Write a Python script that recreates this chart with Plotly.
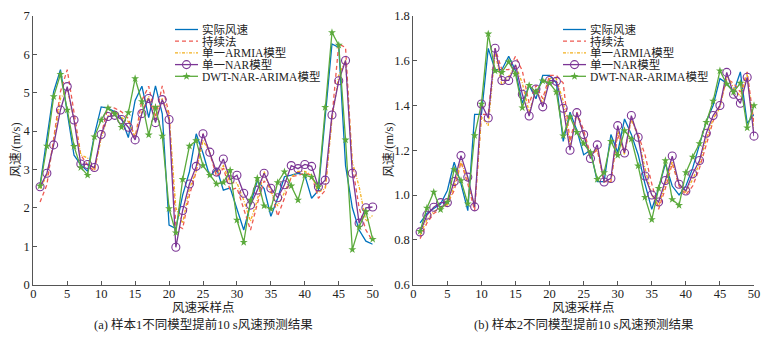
import plotly.graph_objects as go

# ---------------- data ----------------
x = list(range(1, 51))

# Sample 1 (left)
s1_actual = [2.6, 3.8, 5.03, 5.6, 4.5, 3.37, 3.12, 2.95, 3.9, 4.63,
             4.6, 4.5, 4.33, 3.83, 4.8, 5.17, 4.35, 5.18, 4.45, 1.55,
             1.46, 2.33, 2.94, 3.93, 3.42, 2.81, 3.03, 2.46, 2.52, 2.0,
             1.42, 2.1, 2.7, 2.5, 1.78, 2.25, 2.81, 2.85, 2.9, 2.85,
             2.25, 2.45, 4.4, 6.27, 6.18, 3.1, 2.0, 1.42, 1.13, 1.05]
s1_persist = [2.15, 2.6, 3.8, 5.03, 5.6, 4.5, 3.37, 3.12, 2.95, 3.9,
              4.63, 4.6, 4.5, 4.33, 3.83, 4.8, 5.17, 4.35, 5.18, 4.45,
              1.55, 1.46, 2.33, 2.94, 3.93, 3.42, 2.81, 3.03, 2.46, 2.52,
              2.0, 1.42, 2.1, 2.7, 2.5, 1.78, 2.25, 2.81, 2.85, 2.9,
              2.85, 2.25, 2.45, 4.4, 6.27, 6.18, 3.1, 2.0, 1.42, 1.13]
s1_arima = [2.5, 2.85, 3.7, 4.85, 5.1, 4.3, 3.38, 3.3, 2.98, 3.8,
            4.4, 4.5, 4.35, 4.25, 3.85, 4.5, 4.9, 4.3, 4.85, 4.4,
            2.0, 1.6, 2.5, 2.95, 3.75, 3.45, 2.9, 3.1, 2.65, 2.65,
            2.2, 1.65, 2.2, 2.95, 2.4, 2.05, 2.4, 2.8, 2.95, 2.95,
            2.85, 2.4, 2.5, 4.3, 5.45, 5.85, 3.2, 2.55, 1.65, 1.8]
s1_nar = [2.55, 2.9, 3.64, 4.55, 5.16, 4.29, 3.14, 3.13, 3.05, 3.91,
          4.38, 4.41, 4.3, 4.1, 3.77, 4.46, 4.85, 4.22, 4.82, 4.3,
          0.97, 1.93, 2.62, 3.08, 3.93, 3.45, 2.93, 3.27, 2.73, 2.85,
          2.38, 2.07, 2.46, 2.9, 2.51, 2.26, 2.6, 3.1, 3.02, 3.13,
          3.08, 2.55, 2.72, 4.42, 5.31, 5.84, 2.9, 1.6, 2.0, 2.02]
s1_dwt = [2.57, 3.61, 4.9, 5.48, 4.55, 3.6, 3.05, 2.85, 3.85, 4.29,
          4.6, 4.45, 4.1, 4.48, 5.37, 4.77, 3.9, 4.62, 3.87, 1.98,
          1.35, 2.74, 3.61, 3.75, 3.1, 2.85, 2.62, 2.66, 2.98, 1.68,
          1.1, 2.2, 2.77, 2.05, 1.97, 2.66, 2.94, 2.57, 2.2, 2.85,
          2.8, 2.55, 4.62, 6.57, 6.24, 3.77, 0.91, 1.5, 1.9, 1.18]

# Sample 2 (right)
s2_actual = [0.875, 0.917, 0.94, 0.96, 1.02, 1.147, 1.05, 0.93, 1.36, 1.36,
             1.655, 1.56, 1.56, 1.62, 1.555, 1.41, 1.49, 1.43, 1.535, 1.535,
             1.5, 1.24, 1.37, 1.29, 1.18, 1.2, 1.06, 1.06, 1.27, 1.19,
             1.34, 1.27, 1.18, 1.05, 0.936, 1.03, 1.14, 1.04, 1.0, 1.04,
             1.12, 1.22, 1.33, 1.4, 1.52, 1.5, 1.46, 1.55, 1.32, 1.36]
s2_persist = [0.805, 0.875, 0.917, 0.94, 0.96, 1.02, 1.147, 1.05, 0.93, 1.36,
              1.36, 1.655, 1.56, 1.56, 1.62, 1.555, 1.41, 1.49, 1.43, 1.535,
              1.535, 1.5, 1.24, 1.37, 1.29, 1.18, 1.2, 1.06, 1.06, 1.27,
              1.19, 1.34, 1.27, 1.18, 1.05, 0.936, 1.03, 1.14, 1.04, 1.0,
              1.04, 1.12, 1.22, 1.33, 1.4, 1.52, 1.5, 1.46, 1.55, 1.32]
s2_arima = [0.82, 0.89, 0.925, 0.945, 0.955, 1.04, 1.15, 1.07, 0.945, 1.35,
            1.31, 1.64, 1.49, 1.53, 1.58, 1.5, 1.37, 1.47, 1.41, 1.52,
            1.52, 1.42, 1.22, 1.36, 1.27, 1.17, 1.21, 1.06, 1.06, 1.29,
            1.18, 1.34, 1.26, 1.12, 1.0, 0.95, 1.05, 1.15, 1.05, 1.01,
            1.07, 1.14, 1.25, 1.34, 1.39, 1.53, 1.48, 1.44, 1.54, 1.28]
s2_nar = [0.835, 0.91, 0.945, 0.966, 0.966, 1.06, 1.176, 1.08, 0.947, 1.407,
          1.344, 1.656, 1.512, 1.512, 1.582, 1.45, 1.353, 1.474, 1.394, 1.512,
          1.508, 1.388, 1.2, 1.368, 1.27, 1.163, 1.224, 1.058, 1.074, 1.31,
          1.188, 1.355, 1.258, 1.085, 1.0, 0.969, 1.065, 1.174, 1.048, 1.018,
          1.095, 1.154, 1.276, 1.355, 1.4, 1.548, 1.45, 1.41, 1.526, 1.263]
s2_dwt = [0.838, 0.942, 1.013, 0.935, 0.969, 1.114, 1.065, 0.961, 1.266, 1.407,
          1.72, 1.555, 1.548, 1.595, 1.54, 1.39, 1.49, 1.46, 1.51, 1.5,
          1.46, 1.265, 1.35, 1.28, 1.23, 1.19, 1.07, 1.1, 1.24, 1.177,
          1.288, 1.25, 1.13, 0.99, 0.89, 1.03, 1.154, 0.98, 0.954, 1.1,
          1.17, 1.23, 1.325, 1.42, 1.555, 1.496, 1.46, 1.5, 1.3, 1.4]

series_names = ["实际风速", "持续法", "单一ARMIA模型", "单一NAR模型", "DWT-NAR-ARIMA模型"]
x_ticks = [0, 5, 10, 15, 20, 25, 30, 35, 40, 45, 50]
y1_ticks = [0, 1, 2, 3, 4, 5, 6, 7]
y2_ticks = [0.6, 0.8, 1.0, 1.2, 1.4, 1.6, 1.8]
x_title = "风速采样点"
y_title = "风速/(m/s)"
captions = ["(a) 样本1不同模型提前10 s风速预测结果", "(b) 样本2不同模型提前10 s风速预测结果"]

# ---------------- styling ----------------
W, H = 776, 337
FONT = "Liberation Serif, Times New Roman, Noto Sans CJK SC, serif"
TXT = "#222222"
AX = "#555555"

styles = [
    dict(mode="lines", line=dict(color="#0072BD", width=1.3)),
    dict(mode="lines", line=dict(color="#EE5A52", width=1.3, dash="4px,3px")),
    dict(mode="lines", line=dict(color="#F2B01E", width=1.3, dash="3px,1.5px,1px,1.5px")),
    dict(mode="lines+markers", line=dict(color="#7B3595", width=1.3),
         marker=dict(symbol="circle-open", size=8, color="#7B3595", line=dict(width=1.1))),
    dict(mode="lines+markers", line=dict(color="#5BAA3C", width=1.3),
         marker=dict(symbol="star", size=6, color="#5BAA3C", line=dict(width=0))),
]

fig = go.Figure()

panels = [
    ("x", "y", [s1_actual, s1_persist, s1_arima, s1_nar, s1_dwt]),
    ("x2", "y2", [s2_actual, s2_persist, s2_arima, s2_nar, s2_dwt]),
]
for xa, ya, data in panels:
    for vals, st in zip(data, styles):
        fig.add_trace(go.Scatter(x=x, y=vals, xaxis=xa, yaxis=ya, showlegend=False,
                                 hoverinfo="skip", cliponaxis=False, **st))


def px_x(p):
    return p / W


def px_y(p):
    return 1 - p / H


left_box = (33.3, 372.7)
right_box = (413.3, 754.0)
top_px, bot_px = 16.0, 284.5

axis_common = dict(showline=True, linecolor=AX, linewidth=1, mirror=False,
                   ticks="inside", ticklen=4, tickcolor=AX, tickwidth=1,
                   showgrid=False, zeroline=False, automargin=False,
                   tickfont=dict(family=FONT, size=12.5, color=TXT))

fig.update_layout(
    width=W, height=H,
    margin=dict(l=0, r=0, t=0, b=0, autoexpand=False),
    paper_bgcolor="white", plot_bgcolor="rgba(0,0,0,0)",
    showlegend=False,
    font=dict(family=FONT, size=13, color=TXT),
    xaxis=dict(domain=[px_x(left_box[0]), px_x(left_box[1])], range=[0, 50],
               tickvals=x_ticks, anchor="y", ticklabelstandoff=-3, **axis_common),
    yaxis=dict(domain=[px_y(bot_px), px_y(top_px)], range=[0, 7],
               tickvals=y1_ticks, anchor="x", **axis_common),
    xaxis2=dict(domain=[px_x(right_box[0]), px_x(right_box[1])], range=[0, 50],
                tickvals=x_ticks, anchor="y2", ticklabelstandoff=-3, **axis_common),
    yaxis2=dict(domain=[px_y(bot_px), px_y(top_px)], range=[0.6, 1.8],
                tickvals=y2_ticks, tickformat=".1f", anchor="x2", **axis_common),
    # hidden full-page axes used only for the legend keys
    xaxis3=dict(domain=[0, 1], range=[0, W], visible=False, anchor="y3",
                fixedrange=True, automargin=False),
    yaxis3=dict(domain=[0, 1], range=[H, 0], visible=False, anchor="x3",
                fixedrange=True, automargin=False),
)

# ---------------- custom compact legend ----------------
legend_top = 29.5
legend_step = 11.7
legend_left = [175.0, 563.0]
key_len = 23.0
annotations = []
for lx in legend_left:
    for k, (name, st) in enumerate(zip(series_names, styles)):
        ry = legend_top + k * legend_step
        kx = [lx, lx + key_len / 2, lx + key_len]
        tr = go.Scatter(x=kx, y=[ry, ry, ry], xaxis="x3", yaxis="y3",
                        showlegend=False, hoverinfo="skip",
                        mode=st["mode"], line=st["line"])
        if "marker" in st:
            tr.marker = st["marker"]
            tr.marker.opacity = [0, 1, 0]
        fig.add_trace(tr)
        annotations.append(dict(x=px_x(lx + key_len + 3), y=px_y(ry), xref="paper", yref="paper",
                                text=name, showarrow=False, xanchor="left", yanchor="middle",
                                borderpad=0,
                                font=dict(family=FONT, size=11.5, color=TXT)))

# ---------------- titles ----------------
for (x0, x1), cap, ytx in zip([left_box, right_box], captions, [16.0, 389.0]):
    cx = (x0 + x1) / 2
    annotations.append(dict(x=px_x(cx), y=px_y(307.5), xref="paper", yref="paper",
                            text=x_title, showarrow=False, xanchor="center", yanchor="middle",
                            borderpad=0,
                            font=dict(family=FONT, size=12.5, color=TXT)))
    annotations.append(dict(x=px_x(cx), y=px_y(324.5), xref="paper", yref="paper",
                            text=cap, showarrow=False, xanchor="center", yanchor="middle",
                            borderpad=0,
                            font=dict(family=FONT, size=12.5, color=TXT)))
    annotations.append(dict(x=px_x(ytx), y=px_y((top_px + bot_px) / 2), xref="paper", yref="paper",
                            text=y_title, showarrow=False, textangle=-90,
                            xanchor="center", yanchor="middle",
                            font=dict(family=FONT, size=12.5, color=TXT)))

fig.update_layout(annotations=annotations)

fig.write_html("out.html", config={"displayModeBar": False, "staticPlot": True},
               post_script="document.body.style.margin='0';document.body.style.padding='0';"
                           "document.documentElement.style.overflow='hidden';")
